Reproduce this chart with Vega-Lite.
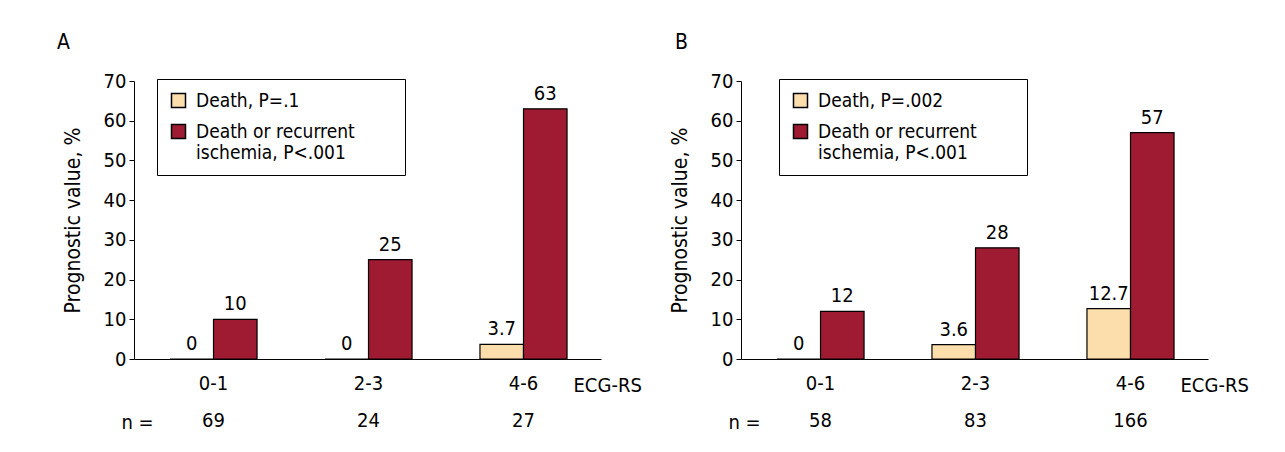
{
  "$schema": "https://vega.github.io/schema/vega-lite/v6.json",
  "padding": {"left": 57, "top": 32, "right": 0, "bottom": 0},
  "background": "white",
  "datasets": {
    "bars": [
      {"panel": "A", "key": "0-1|69", "series": "Death", "value": 0, "label": "0"},
      {"panel": "A", "key": "0-1|69", "series": "Death or recurrent ischemia", "value": 10, "label": "10"},
      {"panel": "A", "key": "2-3|24", "series": "Death", "value": 0, "label": "0"},
      {"panel": "A", "key": "2-3|24", "series": "Death or recurrent ischemia", "value": 25, "label": "25"},
      {"panel": "A", "key": "4-6|27", "series": "Death", "value": 3.7, "label": "3.7"},
      {"panel": "A", "key": "4-6|27", "series": "Death or recurrent ischemia", "value": 63, "label": "63"},
      {"panel": "B", "key": "0-1|58", "series": "Death", "value": 0, "label": "0"},
      {"panel": "B", "key": "0-1|58", "series": "Death or recurrent ischemia", "value": 12, "label": "12"},
      {"panel": "B", "key": "2-3|83", "series": "Death", "value": 3.6, "label": "3.6"},
      {"panel": "B", "key": "2-3|83", "series": "Death or recurrent ischemia", "value": 28, "label": "28"},
      {"panel": "B", "key": "4-6|166", "series": "Death", "value": 12.7, "label": "12.7"},
      {"panel": "B", "key": "4-6|166", "series": "Death or recurrent ischemia", "value": 57, "label": "57"}
    ]
  },
  "config": {
    "font": "DejaVu Sans Condensed, sans-serif",
    "view": {"stroke": null},
    "axis": {
      "labelColor": "black", "titleColor": "black", "domainColor": "black", "tickColor": "black",
      "labelFontSize": 20, "titleFontSize": 21, "titleFontWeight": "normal", "grid": false,
      "labelFont": "DejaVu Sans Condensed, sans-serif",
      "titleFont": "DejaVu Sans Condensed, sans-serif"
    },
    "legend": {
      "labelFont": "DejaVu Sans Condensed, sans-serif",
      "labelFontSize": 19, "labelColor": "black", "labelLimit": 0,
      "symbolType": "square", "symbolSize": 196, "symbolStrokeColor": "black", "symbolStrokeWidth": 1.5,
      "strokeColor": "black", "fillColor": "white", "padding": 12, "rowPadding": 10, "labelOffset": 8
    },
    "title": {"font": "DejaVu Sans Condensed, sans-serif", "fontSize": 21, "fontWeight": "normal", "color": "black", "anchor": "start", "frame": "bounds", "offset": 18}
  },
  "spacing": 27,
  "resolve": {"scale": {"color": "independent"}, "legend": {"color": "independent"}},
  "hconcat": [
    {
      "title": {"text": "A", "dx": -5},
      "width": 467,
      "height": 278,
      "data": {"name": "bars"},
      "transform": [{"filter": "datum.panel == 'A'"}],
      "encoding": {
        "y": {"field": "value", "type": "quantitative", "scale": {"domain": [0, 70], "nice": false},
          "axis": {"values": [0, 10, 20, 30, 40, 50, 60, 70], "labelOverlap": false, "tickSize": 5, "labelPadding": 3, "title": "Prognostic value, %", "titlePadding": 20}},
        "xOffset": {"field": "series", "type": "nominal", "scale": {"domain": ["Death", "Death or recurrent ischemia"], "paddingInner": 0, "paddingOuter": 0.78}}
      },
      "layer": [
        {
          "mark": {"type": "bar", "stroke": "black", "strokeWidth": 1.2},
          "encoding": {
            "x": {"field": "key", "type": "nominal", "sort": null, "scale": {"paddingInner": 0, "paddingOuter": 0.0065, "align": 1},
              "axis": {"orient": "bottom", "ticks": false, "labelAngle": 0, "labelPadding": 14, "labelExpr": "split(datum.value, '|')[0]",
                "title": "ECG-RS", "titleX": 439, "titleY": 26, "titleAlign": "left", "titleBaseline": "middle", "titleFontSize": 20}},
            "color": {"field": "series", "type": "nominal",
              "scale": {"domain": ["Death", "Death or recurrent ischemia"], "range": ["#FCDEAD", "#9E1B32"]},
              "legend": {"title": null, "orient": "none", "legendX": 23, "legendY": -2,
                "labelExpr": "datum.label == 'Death' ? 'Death, P=.1' : ['Death or recurrent\u2800\u2800\u2800', 'ischemia, P<.001']"}}
          }
        },
        {
          "mark": {"type": "text", "baseline": "bottom", "dy": -5, "fontSize": 20, "color": "black"},
          "encoding": {
            "x": {"field": "key", "type": "nominal", "sort": null,
              "axis": {"orient": "bottom", "offset": 37, "domain": false, "ticks": false, "labelAngle": 0, "labelPadding": 14, "labelExpr": "split(datum.value, '|')[1]",
                "title": "n =", "titleX": -13, "titleY": 26, "titleAlign": "left", "titleBaseline": "middle", "titleFontSize": 20}},
            "text": {"field": "label"}
          }
        }
      ],
      "resolve": {"axis": {"x": "independent"}}
    },
    {
      "title": {"text": "B", "dx": 6},
      "width": 467,
      "height": 278,
      "data": {"name": "bars"},
      "transform": [{"filter": "datum.panel == 'B'"}],
      "encoding": {
        "y": {"field": "value", "type": "quantitative", "scale": {"domain": [0, 70], "nice": false},
          "axis": {"values": [0, 10, 20, 30, 40, 50, 60, 70], "labelOverlap": false, "tickSize": 5, "labelPadding": 3, "title": "Prognostic value, %", "titlePadding": 20}},
        "xOffset": {"field": "series", "type": "nominal", "scale": {"domain": ["Death", "Death or recurrent ischemia"], "paddingInner": 0, "paddingOuter": 0.78}}
      },
      "layer": [
        {
          "mark": {"type": "bar", "stroke": "black", "strokeWidth": 1.2},
          "encoding": {
            "x": {"field": "key", "type": "nominal", "sort": null, "scale": {"paddingInner": 0, "paddingOuter": 0.0065, "align": 1},
              "axis": {"orient": "bottom", "ticks": false, "labelAngle": 0, "labelPadding": 14, "labelExpr": "split(datum.value, '|')[0]",
                "title": "ECG-RS", "titleX": 439, "titleY": 26, "titleAlign": "left", "titleBaseline": "middle", "titleFontSize": 20}},
            "color": {"field": "series", "type": "nominal",
              "scale": {"domain": ["Death", "Death or recurrent ischemia"], "range": ["#FCDEAD", "#9E1B32"]},
              "legend": {"title": null, "orient": "none", "legendX": 38, "legendY": -2,
                "labelExpr": "datum.label == 'Death' ? 'Death, P=.002' : ['Death or recurrent\u2800\u2800\u2800', 'ischemia, P<.001']"}}
          }
        },
        {
          "mark": {"type": "text", "baseline": "bottom", "dy": -5, "fontSize": 20, "color": "black"},
          "encoding": {
            "x": {"field": "key", "type": "nominal", "sort": null,
              "axis": {"orient": "bottom", "offset": 37, "domain": false, "ticks": false, "labelAngle": 0, "labelPadding": 14, "labelExpr": "split(datum.value, '|')[1]",
                "title": "n =", "titleX": -13, "titleY": 26, "titleAlign": "left", "titleBaseline": "middle", "titleFontSize": 20}},
            "text": {"field": "label"}
          }
        }
      ],
      "resolve": {"axis": {"x": "independent"}}
    }
  ]
}
